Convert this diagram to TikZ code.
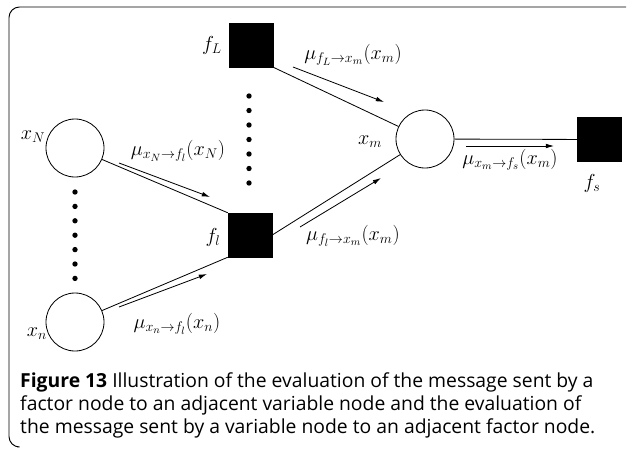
\documentclass[tikz,border=0pt]{standalone}
\usepackage{fontspec}
\newfontfamily\capfont{Open Sans}
\usetikzlibrary{arrows.meta}

\tikzset{
  varnode/.style={draw,circle,minimum size=1.74cm,inner sep=0pt,line width=0.7pt},
  facnode/.style={draw,fill=black,minimum size=1.32cm,inner sep=0pt},
  link/.style={line width=0.7pt},
  msg/.style={line width=0.7pt,-{Latex[length=7pt,width=4pt]}},
  dotnode/.style={circle,fill=black,inner sep=0pt,minimum size=0.16cm},
  lbl/.style={font=\fontsize{18}{21}\selectfont,inner sep=0pt},
  caption/.style={font=\capfont\fontsize{16.5}{19}\selectfont,anchor=base west,inner sep=0pt}
}

\begin{document}
\begin{tikzpicture}[x=0.03cm,y=-0.03cm]
  \useasboundingbox (0,0) rectangle (627,448);
  % frame
  \draw[line width=0.8pt,rounded corners=9pt] (626,7) -- (9,7) -- (9,447) -- (17,447);

  % factor and variable nodes
  \node[facnode] (fL) at (251,45) {};
  \node[facnode] (fl) at (250,235) {};
  \node[varnode] (xN) at (75,148) {};
  \node[varnode] (xn) at (75,322) {};
  \node[varnode] (xm) at (425,139) {};
  \node[facnode] (fs) at (599,139.5) {};

  \node[lbl] (lfL) at (212,45) {$f_L$};
  \node[lbl] (lfl) at (213,237) {$f_l$};
  \node[lbl] (lxN) at (33,137) {$x_N$};
  \node[lbl] (lxn) at (37,334) {$x_n$};
  \node[lbl] (lxm) at (370,142) {$x_m$};
  \node[lbl] (lfs) at (592,183) {$f_s$};

  % dots
  \foreach \k in {0,...,6} {
    \node[dotnode] (dL\k) at (249,96+14.5*\k) {};
    \node[dotnode] (dN\k) at (75,192+14.4*\k) {};
  }

  % links
  \draw[link] (xN) -- (fl.north west);
  \draw[link] (xn) -- (fl.south west);
  \draw[link] (fL.south east) -- (xm);
  \draw[link] (fl.east) -- (xm);
  \draw[link] (xm) -- (fs);

  % messages
  \coordinate (mNa) at (119,163); \coordinate (mNb) at (210,197);
  \coordinate (mna) at (119,307); \coordinate (mnb) at (207,274);
  \coordinate (mLa) at (293,67);  \coordinate (mLb) at (384,102);
  \coordinate (mla) at (300,227); \coordinate (mlb) at (381,178);
  \coordinate (msa) at (466,146); \coordinate (msb) at (554,146);
  \draw[msg] (mNa) -- (mNb);
  \draw[msg] (mna) -- (mnb);
  \draw[msg] (mLa) -- (mLb);
  \draw[msg] (mla) -- (mlb);
  \draw[msg] (msa) -- (msb);

  \node[lbl] (tN) at (178,151) {$\mu_{x_N\to f_l}(x_N)$};
  \node[lbl] (tn) at (177,324) {$\mu_{x_n\to f_l}(x_n)$};
  \node[lbl] (tL) at (353,55) {$\mu_{f_L\to x_m}(x_m)$};
  \node[lbl] (tl) at (353,236) {$\mu_{f_l\to x_m}(x_m)$};
  \node[lbl] (ts) at (510,160) {$\mu_{x_m\to f_s}(x_m)$};

  % caption
  \node[caption] (cap1) at (20,387) {\textbf{Figure 13} Illustration of the evaluation of the message sent by a};
  \node[caption] (cap2) at (20,410) {factor node to an adjacent variable node and the evaluation of};
  \node[caption] (cap3) at (20,433) {the message sent by a variable node to an adjacent factor node.};
\end{tikzpicture}
\end{document}
